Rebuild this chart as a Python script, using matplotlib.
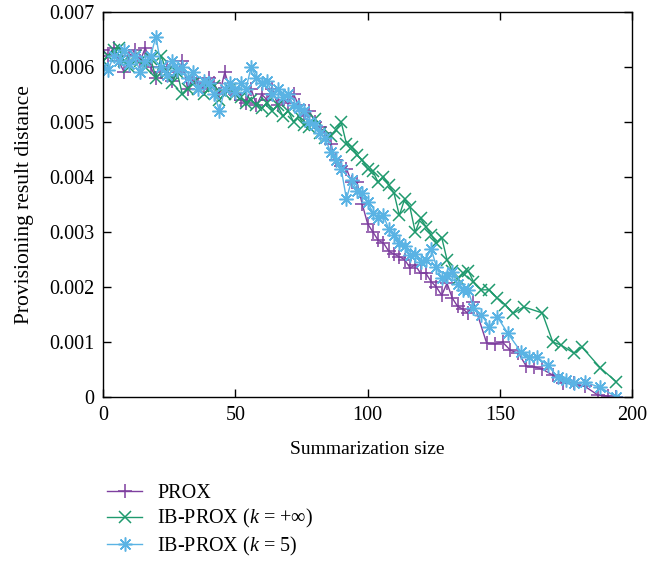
import matplotlib
matplotlib.use("Agg")
import matplotlib.pyplot as plt
from matplotlib.ticker import FuncFormatter

plt.rcParams['font.family'] = ['Liberation Serif', 'DejaVu Serif']
plt.rcParams['mathtext.fontset'] = 'custom'
plt.rcParams['mathtext.it'] = 'Liberation Serif:italic'
plt.rcParams['mathtext.rm'] = 'Liberation Serif'

# x positions (summarization size)
x_prox = list(range(0, 141, 2)) + [145, 148, 151, 154, 157, 160, 163, 166, 170, 174, 178, 182, 187, 191, 194]
x_inf = list(range(0, 141, 2)) + [143, 146, 149, 152, 155, 159, 166, 170, 173, 178, 181, 188, 194]
x_k5 = list(range(0, 141, 2)) + [143, 146, 149, 153, 158, 161, 164, 168, 172, 175, 178, 182, 188, 194]

# values in units of 1e-3
prox = [6.3, 6.2, 6.35, 6.1, 5.9, 6.2, 6.3, 6.1, 6.35, 6.0,
        5.8, 5.9, 6.0, 5.75, 5.9, 6.1, 5.6, 5.8, 5.7, 5.6,
        5.8, 5.7, 5.5, 5.9, 5.6, 5.5, 5.4, 5.35, 5.6, 5.3,
        5.5, 5.4, 5.6, 5.3, 5.4, 5.35, 5.5, 5.3, 5.1, 5.2,
        5.0, 4.9, 4.8, 4.6, 4.3, 4.2, 4.15, 3.9, 3.9, 3.5,
        3.15, 3.0, 2.85, 2.8, 2.65, 2.6, 2.55, 2.5, 2.35, 2.4,
        2.25, 2.25, 2.1, 2.0, 1.85, 2.07, 1.8, 1.65, 1.6, 1.52,
        1.73,
        0.98, 0.97, 1.0, 0.85, 0.8, 0.56, 0.55, 0.51, 0.4, 0.25, 0.25, 0.2, 0.04, 0.02, 0.0]

ib_inf = [6.1, 6.2, 6.3, 6.35, 6.1, 6.0, 6.2, 6.1, 6.0, 6.15,
          5.8, 6.2, 5.9, 5.7, 5.9, 5.5, 5.6, 5.7, 5.6, 5.5,
          5.6, 5.65, 5.4, 5.5, 5.6, 5.5, 5.45, 5.35, 5.4, 5.3,
          5.25, 5.35, 5.2, 5.3, 5.1, 5.2, 5.0, 5.1, 4.95, 4.9,
          5.05, 4.8, 4.7, 4.75, 4.85, 5.0, 4.6, 4.55, 4.4, 4.3,
          4.15, 4.1, 3.9, 4.0, 3.85, 3.7, 3.3, 3.6, 3.45, 3.0,
          3.25, 3.1, 2.95, 2.8, 2.9, 2.5, 2.3, 2.15, 2.25, 2.3,
          2.1,
          1.95, 1.95, 1.8, 1.68, 1.52, 1.64, 1.53, 1.0, 0.95, 0.8, 0.91, 0.53, 0.28]

ib_k5 = [6.0, 5.95, 6.2, 6.1, 6.3, 6.05, 6.2, 5.9, 6.1, 6.2,
         6.55, 6.0, 5.85, 6.1, 5.95, 6.0, 5.8, 5.9, 5.6, 5.75,
         5.7, 5.5, 5.2, 5.6, 5.7, 5.55, 5.7, 5.6, 6.0, 5.8,
         5.7, 5.75, 5.5, 5.6, 5.45, 5.5, 5.3, 5.25, 5.2, 5.0,
         4.95, 4.8, 4.7, 4.45, 4.3, 4.15, 3.6, 3.95, 3.75, 3.7,
         3.55, 3.35, 3.25, 3.3, 3.05, 2.95, 2.8, 2.75, 2.58, 2.6,
         2.46, 2.5, 2.7, 2.37, 2.16, 2.2, 2.27, 2.05, 1.95, 1.95,
         1.62,
         1.5, 1.28, 1.46, 1.16, 0.82, 0.73, 0.73, 0.58, 0.36, 0.31, 0.25, 0.27, 0.18, 0.0]

labels = ['PROX', 'IB-PROX ($k$ = +∞)', 'IB-PROX ($k$ = 5)']
colors = ['#7e3f9f', '#1f9a6e', '#5ab3e4']

fig = plt.figure(figsize=(6.69, 5.61), dpi=100)
ax = fig.add_axes([0.154, 0.292, 0.791, 0.687])

ax.plot(x_prox, [v / 1000 for v in prox], color=colors[0], marker='+', markersize=10,
        markeredgewidth=1.1, linewidth=1, label=labels[0])
ax.plot(x_inf, [v / 1000 for v in ib_inf], color=colors[1], marker='x', markersize=8.5,
        markeredgewidth=1.1, linewidth=1, label=labels[1])
ax.plot(x_k5, [v / 1000 for v in ib_k5], color=colors[2], marker=(8, 2, 0), markersize=10,
        markeredgewidth=1.1, linewidth=1, label=labels[2])

ax.set_xlim(0, 200)
ax.set_ylim(0, 0.007)
ax.set_xticks([0, 50, 100, 150, 200])
ax.set_yticks([i / 1000 for i in range(8)])
ax.yaxis.set_major_formatter(FuncFormatter(lambda v, p: '0' if v == 0 else '%.3f' % v))
ax.tick_params(direction='in', top=True, right=True, labelsize=14.5, length=6, width=1, pad=6)
for s in ax.spines.values():
    s.set_linewidth(1)

ax.set_xlabel('Summarization size', fontsize=14, labelpad=12)
ax.set_ylabel('Provisioning result distance', fontsize=15.5, labelpad=11)

fig.legend(loc='upper left', bbox_to_anchor=(0.148, 0.152), frameon=False, fontsize=14.5,
           handlelength=1.75, numpoints=1, labelspacing=0.22, handletextpad=0.75, borderaxespad=0)

fig.savefig('out.png', dpi=100)
